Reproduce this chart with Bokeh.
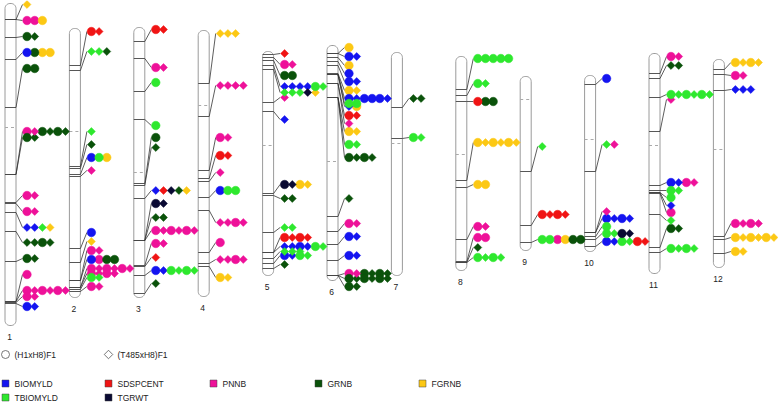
import numpy as np
from bokeh.plotting import figure
from bokeh.models import Range1d, ColumnDataSource
from bokeh.core.properties import value
from bokeh.embed import file_html
from bokeh.resources import INLINE

# ---------------- data ----------------
chrom_names = ["1", "2", "3", "4", "5", "6", "7", "8", "9", "10", "11", "12"]
chrom_start = [3, 28, 27, 30, 51, 45, 52, 56, 76, 75, 53, 59]
chrom_end = [325, 297, 297, 296, 275, 280, 275, 270, 250, 251, 273, 267]
centromere = [127, 131, 172, 105, 145, 161, 143, 154, 99, 139, 145, 149]

trait_codes = ["B", "S", "P", "G", "F", "T", "W"]
trait_names = ["BIOMYLD", "SDSPCENT", "PNNB", "GRNB", "FGRNB", "TBIOMYLD", "TGRWT"]
trait_colors = ["#1414f0", "#f01414", "#ee1199", "#0a520a", "#fcc814", "#2ee82e", "#0a0a33"]

pop_codes = ["c", "d"]
pop_names = ["(H1xH8)F1", "(T485xH8)F1"]

# QTL rows: (map position, label row position, trait+population codes)
qtl_chr1 = [(19, 4, "Fd"), (19, 20, "Pc Pc Fc"), (37, 36, "Gc Gd"), (59, 52, "Bc Gc Fc Fc"),
            (107, 68, "Gc Gc"), (174, 131, "Pc Pd Gc Gd Gc Gd"), (174, 137, "Gc Gd"),
            (202, 195, "Pc Pd"), (203, 211, "Pc Pd"), (212, 227, "Bd Bd Td Fd"),
            (231, 242, "Gd Gd Gc Gd"), (261, 258, "Gc Gd"), (301, 274, "Pc"),
            (301, 290, "Pc Pd Pc Pd Pc Pd"), (302, 296, "Pc Pd"), (303, 306, "Bc Bd")]
qtl_chr2 = [(65, 31, "Sc Sd"), (70, 51, "Td Td Gd"), (166, 131, "Td"), (168, 144, "Gd"),
            (174, 157, "Bc Tc Fc"), (176, 170, "Pd"), (248, 232, "Bc"), (262, 241, "Fd"),
            (280, 250, "Pc Pd"), (280, 259, "Bc Pc Gc Gc"), (287, 268, "Pc Pd Pc Pd Pc Pd"),
            (287, 273, "Pc Pd Pc Pd"), (289, 277, "Tc Td"), (291, 286, "Pc Pd")]
qtl_chr3 = [(41, 29, "Sc Sd"), (58, 67, "Pc Pd"), (91, 82, "Tc"), (119, 125, "Tc"),
            (183, 137, "Gc"), (185, 147, "Gd"), (198, 190, "Bd Sd Wd Gd Fd"),
            (240, 203, "Wc Wd"), (240, 217, "Gd Gd"), (240, 230, "Pc Pd Pc Pd Pc Pd"),
            (265, 243, "Pc Pd"), (266, 257, "Sd"), (275, 270, "Bc Bd Tc Td Tc Td"),
            (293, 283, "Gd")]
qtl_chr4 = [(83, 33, "Fd Fd Fd"), (116, 85, "Pd Pd Pd Pd"), (170, 137, "Pc Pd"),
            (178, 155, "Sc Sd"), (181, 172, "Pd"), (197, 190, "Bc Tc Tc"),
            (210, 222, "Pd Pd Pc Pd"), (252, 242, "Pc"), (263, 259, "Pd Pd Pc Pd"),
            (266, 277, "Fc Fd")]
qtl_chr5 = [(54, 53, "Sd"), (57, 64, "Pc Pd"), (60, 75, "Gc Gc"), (65, 86, "Bd Bd Bd Bd Tc Td"),
            (69, 92, "Td Td Td Wd Fd"), (102, 97, "Pd"), (111, 119, "Bd"),
            (193, 184, "Wc Wd Fc Fd"), (195, 198, "Gd Gd"), (232, 227, "Td Td"),
            (252, 237, "Sc Sd Sc Sd"), (252, 246, "Bd Bd Bc Bd Tc Td"), (258, 251, "Td Td Td"),
            (263, 255, "Bc Bd Tc Td"), (268, 264, "Gd")]
qtl_chr6 = [(53, 47, "Fc"), (53, 56, "Bc Bd"), (57, 65, "Fc"), (61, 73, "Bc"), (65, 81, "Bc Bd"),
            (73, 90, "Fc Fd"), (74, 98, "Bc Bd Bc Bc Bc Bd"), (74, 103, "Tc Tc"),
            (74, 106, "Bd Fc"), (83, 115, "Sc Sd"), (83, 123, "Pd"), (97, 131, "Fc Fd"),
            (97, 144, "Tc Td"), (97, 157, "Gc Gd Gc Gd"), (216, 198, "Gd"), (231, 223, "Pc Pd"),
            (244, 236, "Bc Bd"), (260, 255, "Bc Bd"), (275, 273, "Pc Pd Gc Gd Gc Gd"),
            (275, 278, "Gc Gd Gc Gd Gc Gd"), (275, 286, "Gc Gd")]
qtl_chr7 = [(107, 98, "Gd Gd"), (138, 137, "Tc Td")]
qtl_chr8 = [(89, 58, "Tc Tc Tc Tc Tc"), (95, 83, "Tc Td"), (101, 101, "Sc Gc Gc"),
            (180, 142, "Fc Fd Fc Fd Fc Fd"), (187, 184, "Fc Fc"), (239, 226, "Pc Pd"),
            (261, 237, "Pc Pc"), (262, 247, "Gd"), (262, 257, "Tc Td Tc Td")]
qtl_chr9 = [(171, 146, "Td"), (225, 214, "Sc Sd Sc Sd"), (242, 239, "Tc Tc Pc Fc Gc Gc")]
qtl_chr10 = [(84, 78, "Bc"), (171, 144, "Td Pd"), (232, 211, "Pd"), (232, 218, "Bc Bd Bc Bd"),
             (236, 226, "Tc"), (239, 233, "Tc Td Wc Wd"), (246, 241, "Bc Bd Tc Td Sc Sd")]
qtl_chr11 = [(73, 56, "Pc Pd"), (78, 65, "Gd Gd"), (97, 94, "Tc Td Tc Td Tc Td"), (131, 99, "Pd"),
             (185, 182, "Bc Bd Pc Pd"), (190, 190, "Tc Td"), (192, 197, "Tc"), (192, 205, "Bd"),
             (193, 212, "Pc"), (214, 220, "Td"), (247, 228, "Gc Gd"), (252, 248, "Tc Td Tc Td")]
qtl_chr12 = [(69, 62, "Fc Fd Fc Fd"), (74, 75, "Pc Pd"), (90, 89, "Bd Bd Bd"),
             (236, 223, "Pc Pd Pc Pd"), (239, 237, "Fc Fd Fc Fd Fc Fd"), (253, 251, "Fc Fd")]

qtl_by_chrom = [qtl_chr1, qtl_chr2, qtl_chr3, qtl_chr4, qtl_chr5, qtl_chr6,
                qtl_chr7, qtl_chr8, qtl_chr9, qtl_chr10, qtl_chr11, qtl_chr12]

# ---------------- layout ----------------
CHR_X0, CHR_DX, BAR_W = 10.0, 64.4, 11.0
MARK_OFF, MARK_DX = 11.0, 7.7
FONT = value("Liberation Sans")

p = figure(width=778, height=403, x_range=Range1d(0, 778), y_range=Range1d(403, 0),
           output_backend="svg", toolbar_location=None, min_border=0,
           x_axis_location=None, y_axis_location=None)
p.grid.visible = False
p.outline_line_color = None
p.background_fill_color = "white"
p.border_fill_color = "white"


def capsule(cx, y0, y1, w=BAR_W, r=5.0):
    xl, xr = cx - w / 2, cx + w / 2
    xs, ys = [], []
    for (ccx, ccy, a0, a1) in [(xl + r, y0 + r, np.pi, 1.5 * np.pi),
                               (xr - r, y0 + r, 1.5 * np.pi, 2 * np.pi),
                               (xr - r, y1 - r, 0, 0.5 * np.pi),
                               (xl + r, y1 - r, 0.5 * np.pi, np.pi)]:
        a = np.linspace(a0, a1, 10)
        xs.extend(ccx + r * np.cos(a))
        ys.extend(ccy + r * np.sin(a))
    return xs, ys


chrom_x = [CHR_X0 + CHR_DX * i for i in range(len(chrom_names))]

pxs, pys = [], []
for cx, s, e in zip(chrom_x, chrom_start, chrom_end):
    a, b = capsule(cx, s, e)
    pxs.append(a)
    pys.append(b)
p.patches(pxs, pys, fill_color="white", line_color="#9a9a9a", line_width=1)

# centromeres
p.segment(x0=[x - BAR_W / 2 for x in chrom_x], x1=[x + BAR_W / 2 for x in chrom_x],
          y0=centromere, y1=centromere, line_color="#aaaaaa", line_width=1, line_dash="3 3")

# ticks, connectors, markers
tick = dict(x0=[], x1=[], y0=[], y1=[])
conn = dict(x0=[], x1=[], y0=[], y1=[])
marks = {}
for ci, rows in enumerate(qtl_by_chrom):
    cx = chrom_x[ci]
    xl, xr = cx - BAR_W / 2, cx + BAR_W / 2
    for pos, ly, codes in rows:
        tick["x0"].append(xl); tick["x1"].append(xr)
        tick["y0"].append(pos); tick["y1"].append(pos)
        first = xr + MARK_OFF
        conn["x0"].append(xr); conn["y0"].append(pos)
        conn["x1"].append(first - 4.5); conn["y1"].append(ly)
        for k, tok in enumerate(codes.split()):
            key = (tok[0], tok[1])
            marks.setdefault(key, ([], []))
            marks[key][0].append(first + k * MARK_DX)
            marks[key][1].append(ly)

p.segment(source=ColumnDataSource(tick), x0="x0", y0="y0", x1="x1", y1="y1",
          line_color="#444444", line_width=0.9)
p.segment(source=ColumnDataSource(conn), x0="x0", y0="y0", x1="x1", y1="y1",
          line_color="#333333", line_width=0.8)

for (t, s), (xs, ys) in marks.items():
    col = trait_colors[trait_codes.index(t)]
    if s == "c":
        p.scatter(xs, ys, marker="circle", size=8.5, fill_color=col, line_color=col, line_width=0.5)
    else:
        p.scatter(xs, ys, marker="square", angle=np.pi / 4, size=5.6,
                  fill_color=col, line_color=col, line_width=0.5)

# chromosome labels
p.text(x=[x - 1 for x in chrom_x], y=[e + 11 for e in chrom_end], text=chrom_names,
       text_font=FONT, text_font_size="8.5px", text_align="center", text_baseline="middle",
       text_color="#222222")

# legend: populations
p.scatter([5], [354], marker="circle", size=8, fill_color=None, line_color="#555555", line_width=0.8)
p.scatter([108], [354], marker="square", angle=np.pi / 4, size=6, fill_color=None,
          line_color="#555555", line_width=0.8)
p.text(x=[14, 117], y=[354, 354], text=pop_names, text_font=FONT, text_font_size="8.5px",
       text_align="left", text_baseline="middle", text_color="#222222")

# legend: traits
leg_x = [5, 108, 213, 318, 422, 5, 108]
leg_y = [383, 383, 383, 383, 383, 397, 397]
p.scatter(leg_x, leg_y, marker="square", size=7, fill_color=trait_colors,
          line_color="#444444", line_width=0.5)
p.text(x=[x + 9 for x in leg_x], y=leg_y, text=trait_names, text_font=FONT,
       text_font_size="8.5px", text_align="left", text_baseline="middle", text_color="#222222")

open("out.html", "w").write(file_html(p, INLINE))
